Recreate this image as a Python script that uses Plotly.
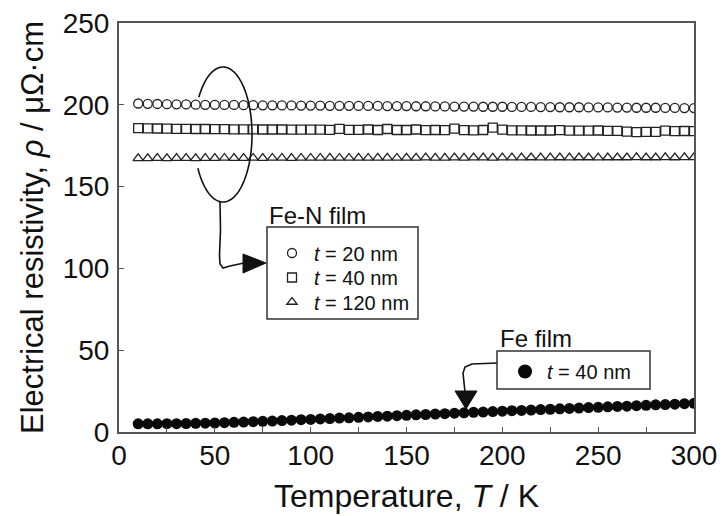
import numpy as np
import plotly.graph_objects as go

# Temperature grid (K)
temperature = [10, 15, 20, 25, 30, 35, 40, 45, 50, 55, 60, 65, 70, 75, 80, 85, 90, 95,
               100, 105, 110, 115, 120, 125, 130, 135, 140, 145, 150, 155, 160, 165, 170,
               175, 180, 185, 190, 195, 200, 205, 210, 215, 220, 225, 230, 235, 240, 245,
               250, 255, 260, 265, 270, 275, 280, 285, 290, 295, 300]

# Fe-N films, resistivity in µΩ·cm
fen_20nm = [200.8, 200.6, 200.5, 200.4, 200.3, 200.2, 200.1, 200.0, 200.0, 199.9, 199.9,
            199.8, 199.8, 199.7, 199.7, 199.6, 199.6, 199.5, 199.5, 199.5, 199.4, 199.4,
            199.4, 199.3, 199.3, 199.3, 199.2, 199.2, 199.2, 199.1, 199.1, 199.0, 199.0,
            198.9, 198.9, 198.9, 198.8, 198.8, 198.8, 198.7, 198.7, 198.7, 198.6, 198.6,
            198.5, 198.5, 198.5, 198.4, 198.4, 198.4, 198.3, 198.3, 198.2, 198.2, 198.2,
            198.1, 198.1, 198.0, 198.0]
fen_40nm = [185.8, 185.6, 185.5, 185.4, 185.3, 185.3, 185.2, 185.2, 185.1, 185.1, 185.0,
            185.0, 185.0, 184.9, 184.9, 184.9, 184.8, 184.8, 184.8, 184.8, 184.7, 185.3,
            184.7, 184.7, 184.9, 184.6, 185.2, 184.6, 184.6, 184.9, 184.5, 184.6, 184.5,
            185.4, 184.5, 184.4, 184.6, 186.0, 184.8, 184.4, 184.4, 184.3, 184.3, 184.3,
            184.5, 184.2, 184.2, 184.2, 184.3, 184.1, 184.1, 183.6, 183.3, 183.4, 183.5,
            184.2, 183.9, 184.0, 183.9]
fen_120nm = [167.3, 167.3, 167.4, 167.3, 167.4, 167.4, 167.3, 167.4, 167.4, 167.5, 167.4,
             167.4, 167.5, 167.4, 167.5, 167.5, 167.4, 167.5, 167.5, 167.5, 167.6, 167.5,
             167.5, 167.6, 167.5, 167.6, 167.6, 167.5, 167.6, 167.6, 167.7, 167.6, 167.6,
             167.7, 167.6, 167.7, 167.7, 167.6, 167.7, 167.7, 167.7, 167.8, 167.7, 167.7,
             167.8, 167.7, 167.8, 167.8, 167.7, 167.8, 167.8, 167.8, 167.9, 167.8, 167.8,
             167.9, 167.8, 167.9, 167.9]

# Pure Fe film, 40 nm
fe_40nm = [5.0, 5.0, 5.0, 5.1, 5.1, 5.2, 5.3, 5.4, 5.5, 5.7, 5.9, 6.1, 6.3, 6.5, 6.7, 7.0,
           7.2, 7.5, 7.7, 8.0, 8.2, 8.5, 8.7, 9.0, 9.2, 9.5, 9.7, 10.0, 10.2, 10.5, 10.7,
           11.0, 11.2, 11.5, 11.7, 12.0, 12.2, 12.5, 12.7, 13.0, 13.2, 13.4, 13.7, 13.9,
           14.2, 14.4, 14.6, 14.9, 15.1, 15.4, 15.6, 15.8, 16.1, 16.3, 16.6, 16.8, 17.0,
           17.3, 17.5]

fen_labels = ["<i>t</i> = 20 nm", "<i>t</i> = 40 nm", "<i>t</i> = 120 nm"]
fe_label = "<i>t</i> = 40 nm"

FONT = "Liberation Sans, Arial, Helvetica, sans-serif"
INK = "#111111"
AXIS = "#555555"

X_RANGE = [0, 300]
Y_RANGE = [0, 250]
PLOT_L, PLOT_R, PLOT_T, PLOT_B = 119, 694, 23, 432


def at(px, py):
    """Canvas pixel -> data coordinates of the main axes."""
    x = X_RANGE[0] + (px - PLOT_L) / (PLOT_R - PLOT_L) * (X_RANGE[1] - X_RANGE[0])
    y = Y_RANGE[0] + (PLOT_B - py) / (PLOT_B - PLOT_T) * (Y_RANGE[1] - Y_RANGE[0])
    return x, y


def paper(px, py):
    return (px - PLOT_L) / (PLOT_R - PLOT_L), (PLOT_B - py) / (PLOT_B - PLOT_T)


def path(points):
    pts = [at(px, py) for px, py in points]
    return "M " + " L ".join(f"{x:.3f},{y:.3f}" for x, y in pts)


fig = go.Figure()

# each Fe-N entry gets its own legend so the row pitch can be set freely
fen_legends = ["legend", "legend3", "legend4"]
open_line = dict(color="#222222", width=1.3)
for vals, sym, lab, lg in [(fen_20nm, "circle-open", fen_labels[0], fen_legends[0]),
                           (fen_40nm, "square-open", fen_labels[1], fen_legends[1]),
                           (fen_120nm, "triangle-up-open", fen_labels[2], fen_legends[2])]:
    fig.add_trace(go.Scatter(
        x=temperature, y=vals, mode="markers", name=lab, legend=lg,
        marker=dict(symbol=sym, size=9, color="#222222", line=open_line),
    ))

fig.add_trace(go.Scatter(
    x=temperature, y=fe_40nm, mode="markers", showlegend=False,
    marker=dict(symbol="circle", size=11, color="#0a0a0a"),
))
fig.add_trace(go.Scatter(
    x=[None], y=[None], mode="markers", name=fe_label, legend="legend2",
    marker=dict(symbol="circle", size=14, color="#0a0a0a"),
))

shapes = []

# ellipse grouping the Fe-N curves (left arc left open where it crosses the data)
cx, cy, rx, ry = 223, 134.5, 29, 67.5
theta = np.radians(np.linspace(-150, 146.6, 160))
ell = [(cx + rx * np.cos(t), cy - ry * np.sin(t)) for t in theta]
shapes.append(dict(type="path", path=path(ell), line=dict(color=INK, width=1.6)))

# leader from ellipse to the Fe-N key
shapes.append(dict(type="path",
                   path=path([(220, 202), (220.5, 230), (219.5, 255), (220, 264),
                              (223, 268), (230, 266), (244, 263)]),
                   line=dict(color=INK, width=1.6)))
shapes.append(dict(type="path", path=path([(243, 254), (243, 273), (266, 263)]) + " Z",
                   fillcolor=INK, line=dict(color=INK, width=1)))

# leader from Fe key down to the Fe curve
shapes.append(dict(type="path",
                   path=path([(497, 363), (472, 364), (465, 367), (463, 373), (465, 392)]),
                   line=dict(color=INK, width=1.6)))
shapes.append(dict(type="path", path=path([(455, 391), (477, 391), (466, 409)]) + " Z",
                   fillcolor=INK, line=dict(color=INK, width=1)))

# key boxes
for (x0, y0, x1, y1) in [(267, 227, 418, 319), (497, 351, 650, 389)]:
    ax0, ay0 = at(x0, y1)
    ax1, ay1 = at(x1, y0)
    shapes.append(dict(type="rect", x0=ax0, x1=ax1, y0=ay0, y1=ay1,
                       line=dict(color="#333333", width=1.5)))

fx, fy = at(267, 215)
gx, gy = at(498, 338)
annotations = [
    dict(x=fx, y=fy, text="Fe-N film", showarrow=False, xanchor="left", yanchor="middle",
         font=dict(family=FONT, size=24, color=INK)),
    dict(x=gx, y=gy, text="Fe film", showarrow=False, xanchor="left", yanchor="middle",
         font=dict(family=FONT, size=24, color=INK)),
]

key_font = dict(family=FONT, size=20, color=INK)


def key(px, py, width):
    x, y = paper(px, py)
    return dict(x=x, y=y, xanchor="left", yanchor="top", bgcolor="rgba(0,0,0,0)",
                borderwidth=0, itemwidth=width, font=key_font)


legend_rows = {}
for lg, row_y in zip(fen_legends, [233.5, 258, 282.5]):
    legend_rows[lg] = key(270, row_y, 34)

axis_common = dict(
    showline=True, mirror=True, linecolor=AXIS, linewidth=2,
    ticks="inside", ticklen=5, tickwidth=1.3, tickcolor=AXIS,
    showgrid=False, zeroline=False, automargin=False,
    tickfont=dict(family=FONT, size=28, color=INK),
)

fig.update_layout(
    width=726, height=516,
    margin=dict(l=PLOT_L, r=726 - PLOT_R, t=PLOT_T, b=516 - PLOT_B, autoexpand=False),
    paper_bgcolor="white", plot_bgcolor="white",
    font=dict(family=FONT, color=INK),
    xaxis=dict(range=X_RANGE, dtick=50, tick0=0, ticklabelstandoff=-3,
               minor=dict(dtick=25, ticks="inside", ticklen=5, tickcolor=AXIS, tickwidth=1.3),
               title=dict(text="Temperature, <i>T</i> / K", standoff=15,
                          font=dict(family=FONT, size=32, color=INK)),
               **axis_common),
    yaxis=dict(range=Y_RANGE, dtick=50, tick0=0, ticklabelstandoff=2,
               title=dict(text="Electrical resistivity, <i>ρ</i> / μΩ·cm", standoff=10,
                          font=dict(family=FONT, size=31, color=INK)),
               **axis_common),
    legend2=key(503, 352, 34),
    shapes=shapes,
    annotations=annotations,
    **legend_rows,
)

fig.write_html("out.html")
